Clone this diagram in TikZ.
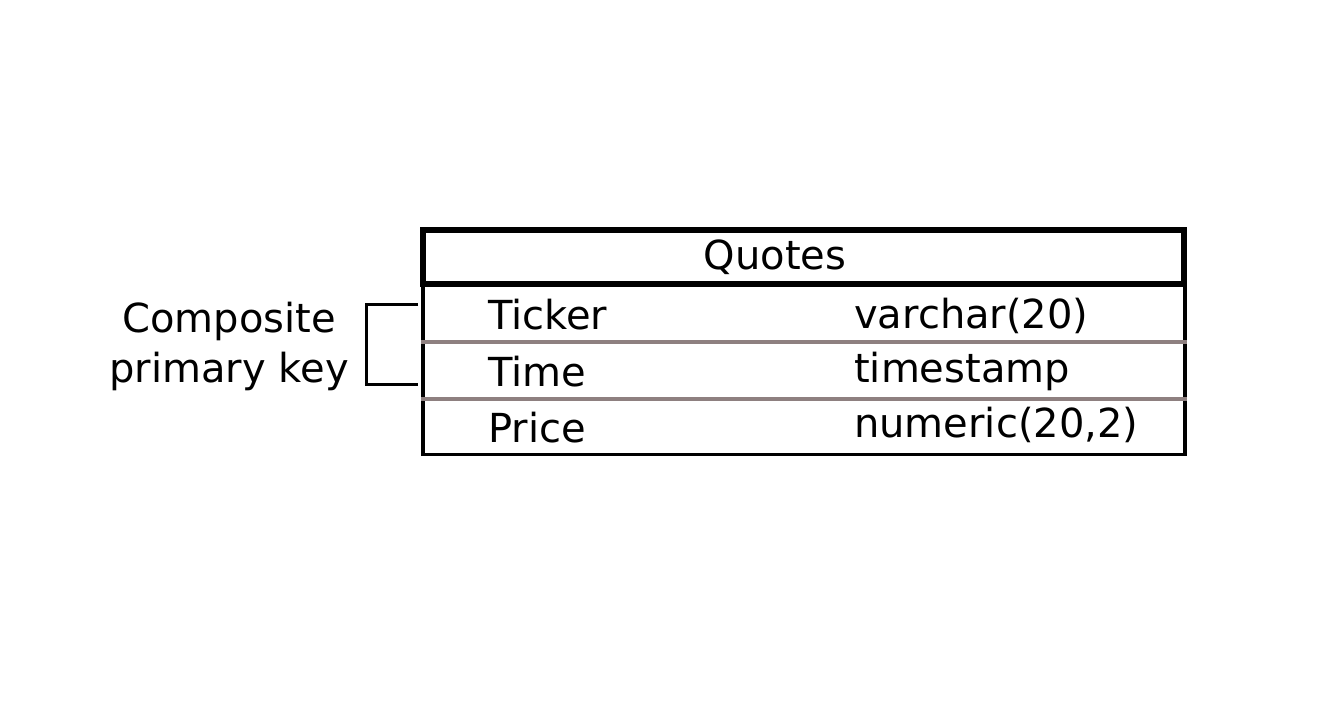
\documentclass[tikz,border=0pt]{standalone}
\usepackage{fontspec}
\setmainfont{DejaVu Sans}
\usepackage{tikz}
\usetikzlibrary{positioning}
\definecolor{rowgray}{RGB}{142,128,128}

\begin{document}
\begin{tikzpicture}[
        x=1pt, y=1pt,
        every node/.style = {font=\fontsize{40}{50}\selectfont, inner sep=0pt},
        tablebox/.style = {draw, rectangle, line width=3.5pt, minimum width=762pt, minimum height=170pt},
        headbox/.style = {draw, rectangle, line width=6pt, minimum width=761pt, minimum height=54.5pt},
        fieldname/.style = {anchor=base west},
        fieldtype/.style = {anchor=base west},
        rowline/.style = {draw=rowgray, line width=4pt},
        bracket/.style = {draw, line width=3pt}
    ]
        \useasboundingbox (0,0) rectangle (1343,726);

        % Table body and header
        \node (body) [tablebox] at (804,356.5) {};
        \node (head) [headbox] at (803.5,468.75) {};
        \node (title) [anchor=base] at (775,456) {Quotes};

        % Row separators
        \coordinate (sep1) at (0,384);
        \coordinate (sep2) at (0,327);
        \draw [rowline] (body.west |- sep1) -- (body.east |- sep1);
        \draw [rowline] (body.west |- sep2) -- (body.east |- sep2);

        % Fields
        \node (ticker) [fieldname] at (488,396) {Ticker};
        \node (time) [fieldname] at (488,339.5) {Time};
        \node (price) [fieldname] at (488,283) {Price};
        \node (tickertype) [fieldtype] at (854,397) {varchar(20)};
        \node (timetype) [fieldtype] at (854,343) {timestamp};
        \node (pricetype) [fieldtype] at (854,288) {numeric(20,2)};

        % Composite key bracket
        \coordinate (keytop) at (418,421);
        \coordinate (keybot) at (418,341);
        \draw [bracket] (keytop) -- ++(-52,0) |- (keybot);
        \node (pklabel) [align=center] at (229,380) {Composite\\primary key};

    \end{tikzpicture}
\end{document}
